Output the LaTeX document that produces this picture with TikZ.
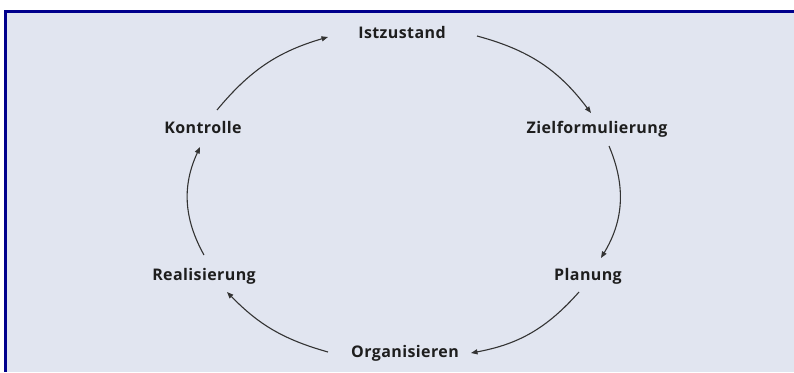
\documentclass[tikz,border=0pt]{standalone}
\usepackage{fontspec}
\setsansfont[LetterSpace=2.5]{Open Sans}
\usetikzlibrary{arrows.meta}
\definecolor{panelbg}{HTML}{E1E5F0}
\definecolor{panelrule}{HTML}{00008C}
\definecolor{labeltext}{HTML}{1E1E1E}
\definecolor{arrowline}{HTML}{333333}
\begin{document}
\begin{tikzpicture}[x=1pt,y=-1pt,
  phase/.style={font=\sffamily\bfseries\fontsize{16}{19}\selectfont,
    text=labeltext, anchor=base, inner sep=0pt},
  cycle/.style={draw=arrowline, line width=1.1pt,
    -{Triangle[length=6.5pt,width=5pt]}}]
  % page and panel
  \useasboundingbox (0,0) rectangle (794,372);
  \fill[white] (0,0) rectangle (794,372);
  \fill[panelbg] (4,10) rectangle (794,372);
  \fill[panelrule] (4,10) rectangle (794,12.7);
  \fill[panelrule] (4,10) rectangle (7,372);

  % phases of the cycle
  \node[phase] (ist)  at (402,38.5) {Istzustand};
  \node[phase] (ziel) at (597,133)  {Zielformulierung};
  \node[phase] (plan) at (588,280)  {Planung};
  \node[phase] (org)  at (405,357)  {Organisieren};
  \node[phase] (real) at (204,280)  {Realisierung};
  \node[phase] (kon)  at (203,133)  {Kontrolle};

  % arc end points around the ellipse
  \coordinate (k-out)  at (217,110);
  \coordinate (i-in)   at (328,37);
  \coordinate (i-out)  at (477,36);
  \coordinate (z-in)   at (591,113);
  \coordinate (z-out)  at (609,146);
  \coordinate (p-in)   at (601,258);
  \coordinate (p-out)  at (579,292);
  \coordinate (o-in)   at (471,353);
  \coordinate (o-out)  at (328,352);
  \coordinate (r-in)   at (227,292);
  \coordinate (r-out)  at (204,255);
  \coordinate (k-in)   at (200,147);

  % connecting arcs, clockwise
  \draw[cycle] (k-out) to[bend left=17] (i-in);
  \draw[cycle] (i-out) to[bend left=19] (z-in);
  \draw[cycle] (z-out) to[bend left=27] (p-in);
  \draw[cycle] (p-out) to[bend left=19] (o-in);
  \draw[cycle] (o-out) to[bend left=15] (r-in);
  \draw[cycle] (r-out) to[bend left=27] (k-in);
\end{tikzpicture}
\end{document}
